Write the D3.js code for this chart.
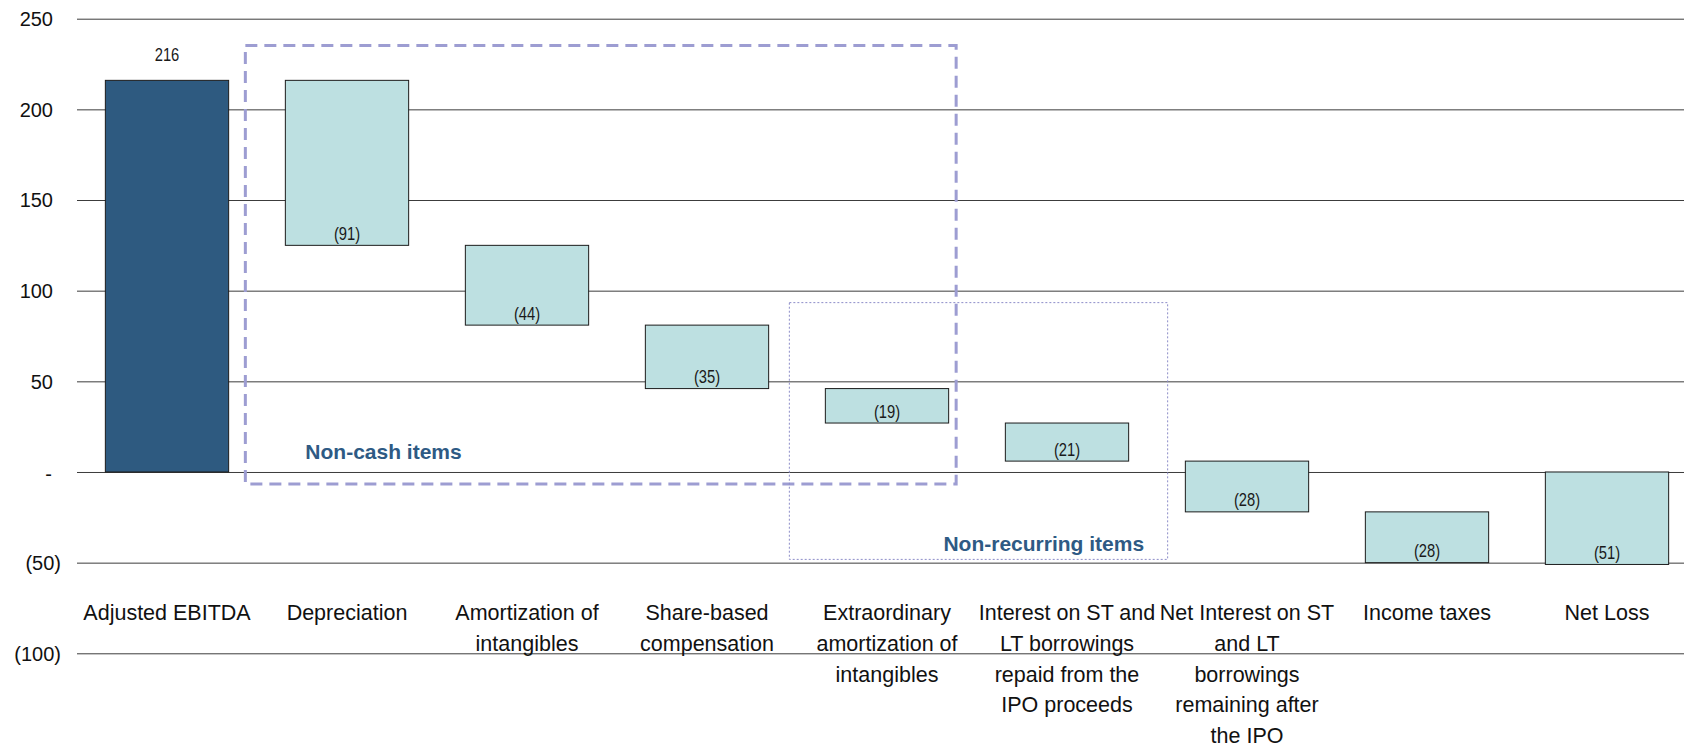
<!DOCTYPE html>
<html>
<head>
<meta charset="utf-8">
<script src="https://cdn.jsdelivr.net/npm/d3@7"></script>
<style>
  html, body { margin: 0; padding: 0; background: #ffffff; }
  svg { display: block; }
</style>
</head>
<body>
<svg id="chart" width="1684" height="747"></svg>
<script>
// Bridge from Adjusted EBITDA to Net Loss (waterfall)
const categories = [
  "Adjusted EBITDA",
  "Depreciation",
  "Amortization of intangibles",
  "Share-based compensation",
  "Extraordinary amortization of intangibles",
  "Interest on ST and LT borrowings repaid from the IPO proceeds",
  "Net Interest on ST and LT borrowings remaining after the IPO",
  "Income taxes",
  "Net Loss"
];
const categoryLines = [
  ["Adjusted EBITDA"],
  ["Depreciation"],
  ["Amortization of", "intangibles"],
  ["Share-based", "compensation"],
  ["Extraordinary", "amortization of", "intangibles"],
  ["Interest on ST and", "LT borrowings", "repaid from the", "IPO proceeds"],
  ["Net Interest on ST", "and LT", "borrowings", "remaining after", "the IPO"],
  ["Income taxes"],
  ["Net Loss"]
];
const amounts = [216, -91, -44, -35, -19, -21, -28, -28, -51];
const barTypes = ["total", "step", "step", "step", "step", "step", "step", "step", "total"];
const yTickValues = [250, 200, 150, 100, 50, 0, -50, -100];
const groupNonCash = { label: "Non-cash items", first: "Depreciation", last: "Extraordinary amortization of intangibles" };
const groupNonRecurring = { label: "Non-recurring items", first: "Extraordinary amortization of intangibles", last: "Interest on ST and LT borrowings repaid from the IPO proceeds" };

const W = 1684, H = 747;
const svg = d3.select("#chart");
svg.append("rect").attr("width", W).attr("height", H).attr("fill", "#ffffff");

const FONT = "'Liberation Sans', Arial, sans-serif";
const darkFill = "#2e5a80";
const lightFill = "#bde0e1";
const accent = "#2e5a84";

const x = d3.scaleBand()
  .domain(categories)
  .range([77, 1697])
  .paddingInner(0.315)
  .paddingOuter(0.1575);

const y = d3.scaleLinear()
  .domain([-100, 250])
  .range([653.3, 18.7]);

// waterfall geometry from the amounts
let running = 0;
const bars = categories.map((c, i) => {
  const v = amounts[i];
  let v0, v1;
  if (barTypes[i] === "total") { v0 = 0; v1 = v; running = v; }
  else { v0 = running; v1 = running + v; running = v1; }
  return { cat: c, value: v, lo: Math.min(v0, v1), hi: Math.max(v0, v1), first: i === 0 };
});

// value axis with full-width gridlines
const fmt = v => v === 0 ? "-" : (v < 0 ? "(" + (-v) + ")" : String(v));
const yAxis = d3.axisLeft(y)
  .tickValues(yTickValues)
  .tickSize(-(W - 77))
  .tickPadding(16)
  .tickFormat(fmt);

const ga = svg.append("g").attr("transform", "translate(77,0)").call(yAxis);
ga.select(".domain").remove();
ga.selectAll(".tick line").attr("stroke", "#3c3c3c").attr("stroke-width", 1);
ga.selectAll(".tick text")
  .attr("font-family", FONT)
  .attr("font-size", 20)
  .attr("fill", "#111")
  .attr("x", d => d > 0 ? -24 : (d === 0 ? -25 : -16))
  .attr("dy", d => d === 0 ? "0.45em" : "0.34em");

// bars
svg.append("g").selectAll("rect")
  .data(bars)
  .join("rect")
  .attr("x", d => x(d.cat))
  .attr("width", x.bandwidth())
  .attr("y", d => y(d.hi))
  .attr("height", d => y(d.lo) - y(d.hi))
  .attr("fill", d => d.first ? darkFill : lightFill)
  .attr("stroke", "#1c1c1c")
  .attr("stroke-width", 1);

// value labels (condensed)
const vl = svg.append("g").selectAll("g")
  .data(bars)
  .join("g")
  .attr("transform", d => {
    const cx = x(d.cat) + x.bandwidth() / 2;
    const by = d.first ? y(d.hi) - 19.5 : y(d.lo) - 5.5;
    return `translate(${cx},${by})`;
  });
vl.append("text")
  .attr("transform", "scale(0.82,1)")
  .attr("text-anchor", "middle")
  .attr("font-family", FONT)
  .attr("font-size", 18)
  .attr("fill", "#1a1a1a")
  .text(d => fmt(d.value));

// category labels
const cl = svg.append("g").selectAll("text")
  .data(categories)
  .join("text")
  .attr("text-anchor", "middle")
  .attr("font-family", FONT)
  .attr("font-size", 21.5)
  .attr("fill", "#111");
cl.each(function (c, i) {
  const t = d3.select(this);
  categoryLines[i].forEach((line, k) => {
    t.append("tspan")
      .attr("x", x(c) + x.bandwidth() / 2)
      .attr("y", 620 + k * 30.8)
      .text(line);
  });
});

// grouping boxes
const bw = x.bandwidth();
const nc = {
  x0: x(groupNonCash.first) - 40,
  x1: x(groupNonCash.last) + bw + 7.5,
  y0: y(235.2),
  y1: y(-6.6)
};
svg.append("rect")
  .attr("x", nc.x0).attr("y", nc.y0)
  .attr("width", nc.x1 - nc.x0).attr("height", nc.y1 - nc.y0)
  .attr("fill", "none")
  .attr("stroke", "#9d9dd2")
  .attr("stroke-width", 3)
  .attr("stroke-dasharray", "12,7");

const nr = {
  x0: x(groupNonRecurring.first) - 36,
  x1: x(groupNonRecurring.last) + bw + 39,
  y0: y(93.4),
  y1: y(-48.2)
};
svg.append("rect")
  .attr("x", nr.x0).attr("y", nr.y0)
  .attr("width", nr.x1 - nr.x0).attr("height", nr.y1 - nr.y0)
  .attr("fill", "none")
  .attr("stroke", "#8c8cc8")
  .attr("stroke-width", 1)
  .attr("stroke-dasharray", "2,2");

svg.append("text")
  .attr("x", nc.x0 + 60)
  .attr("y", 459)
  .attr("font-family", FONT)
  .attr("font-weight", "bold")
  .attr("font-size", 21)
  .attr("fill", accent)
  .text(groupNonCash.label);

svg.append("text")
  .attr("x", nr.x1 - 23.5)
  .attr("y", 550.7)
  .attr("text-anchor", "end")
  .attr("font-family", FONT)
  .attr("font-weight", "bold")
  .attr("font-size", 21)
  .attr("fill", accent)
  .text(groupNonRecurring.label);
</script>
</body>
</html>
